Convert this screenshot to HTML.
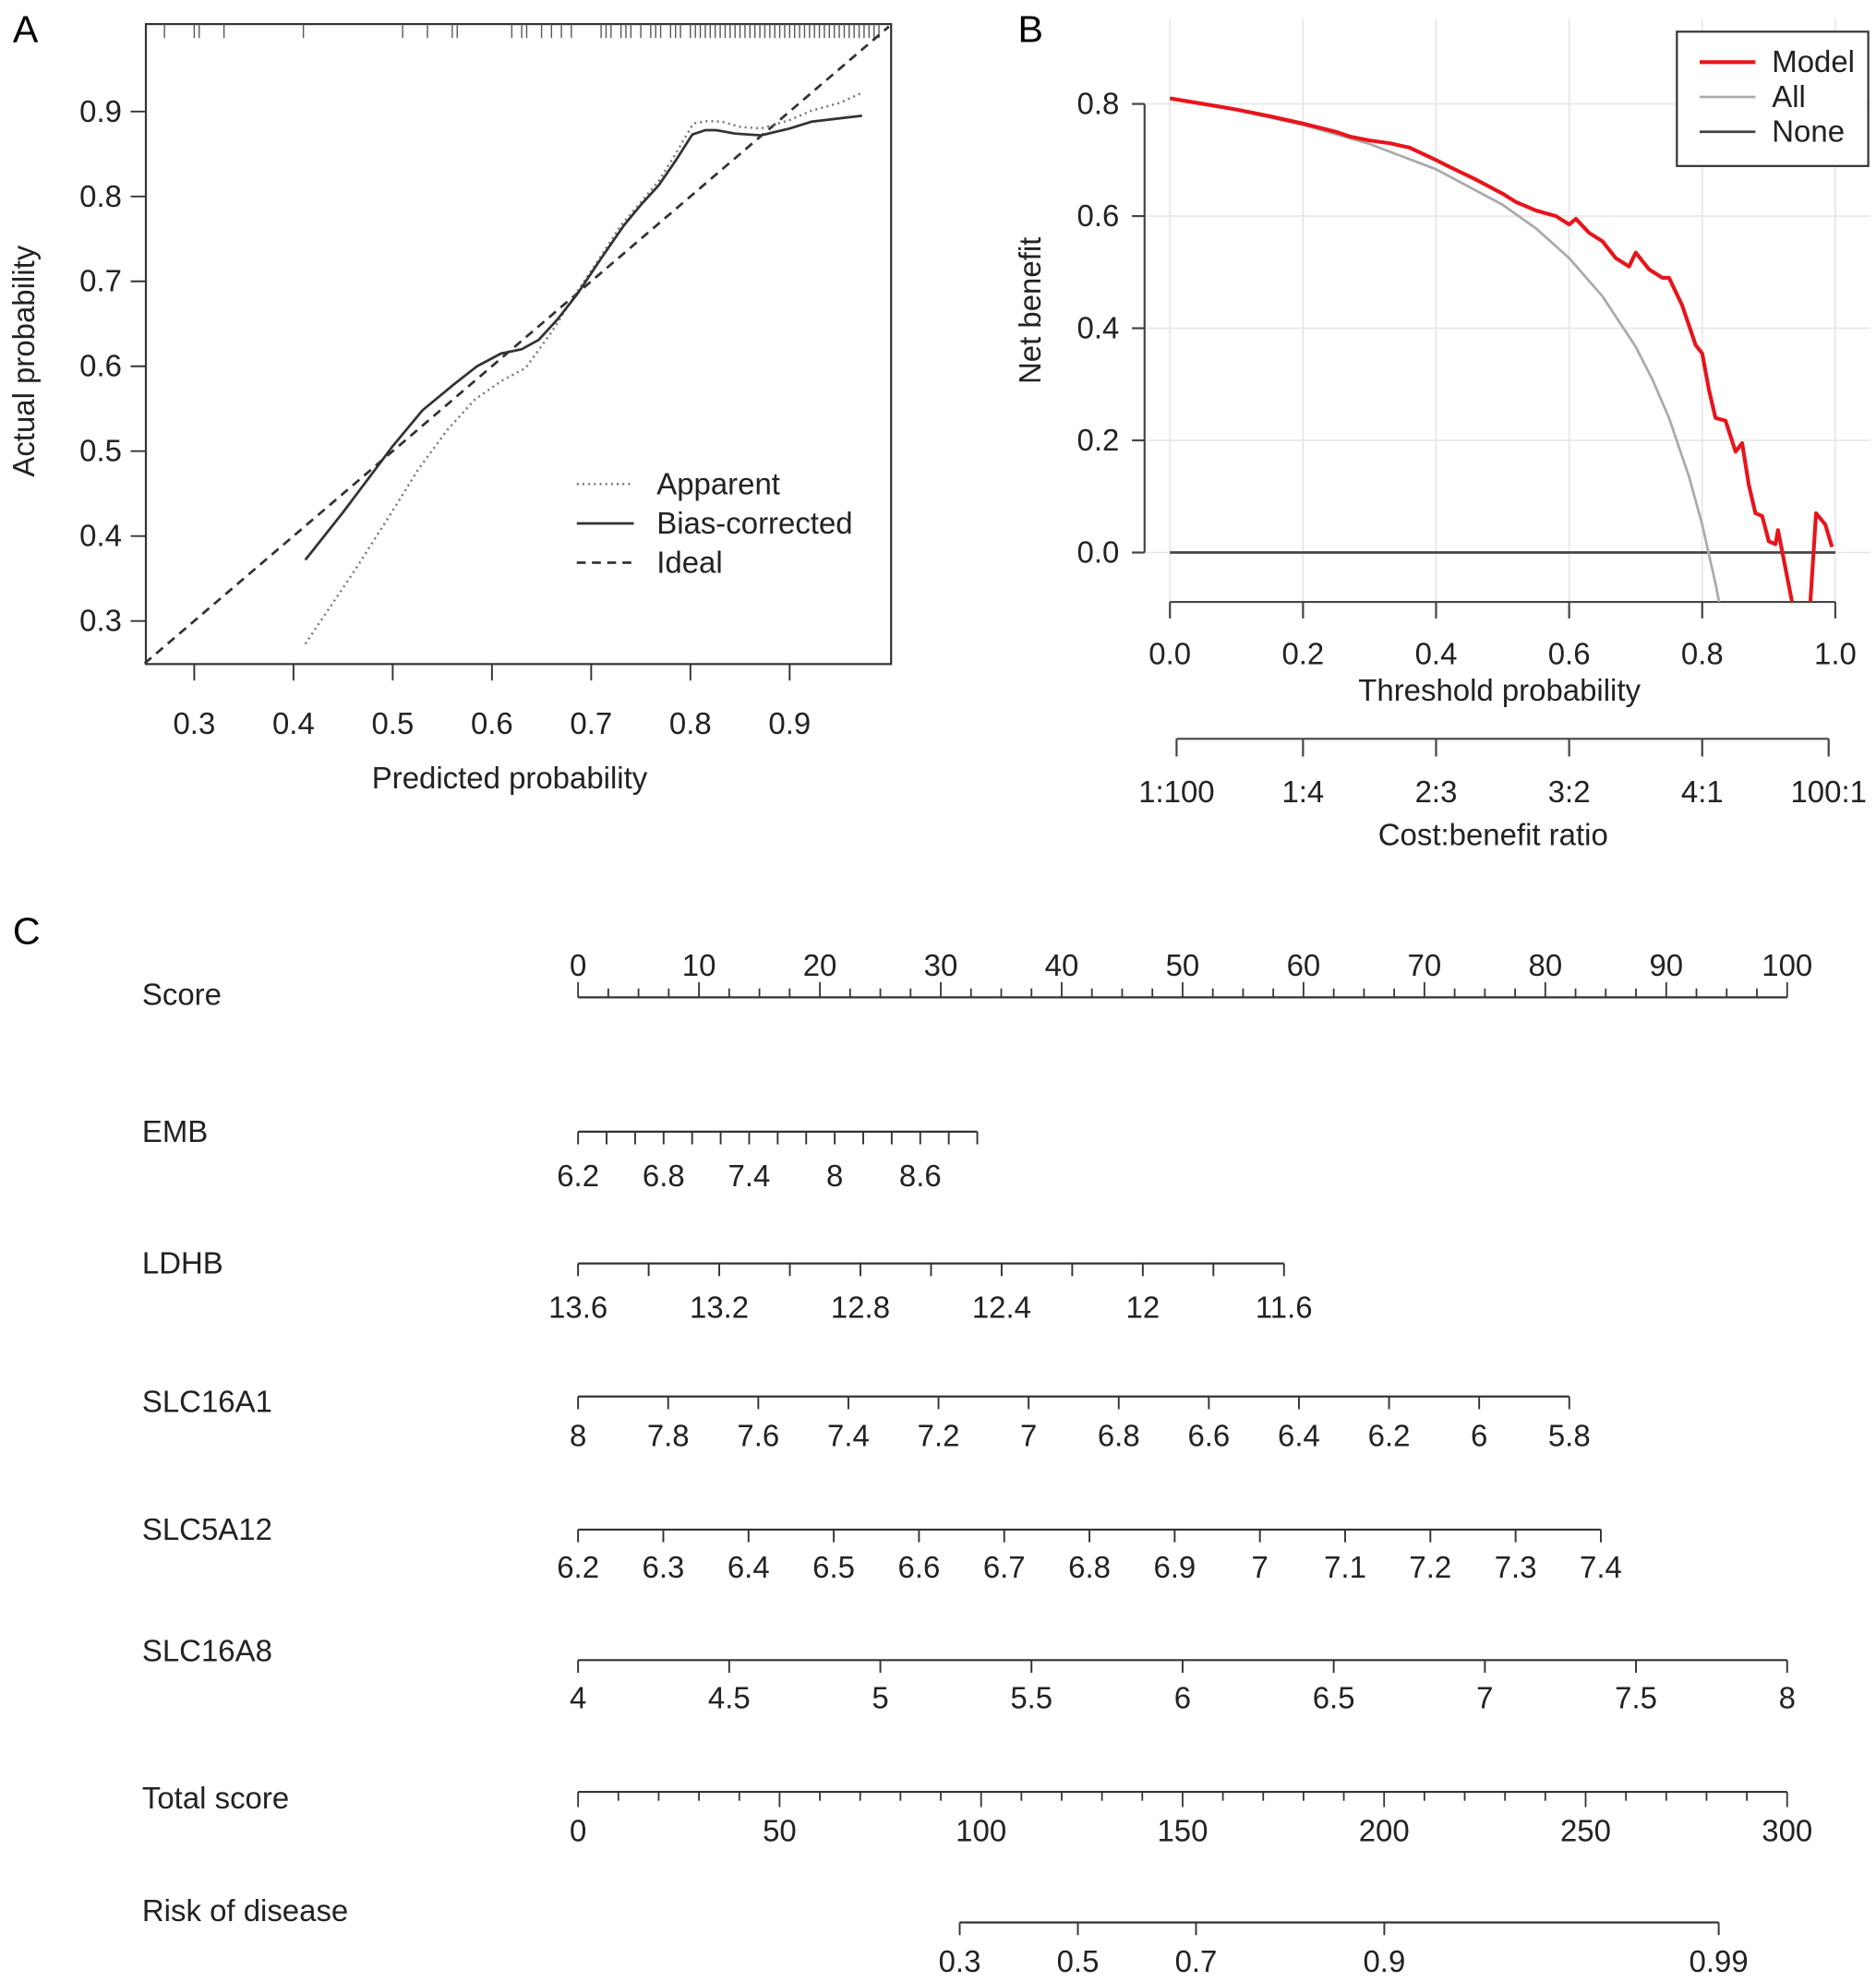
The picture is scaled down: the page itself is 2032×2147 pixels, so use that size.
<!DOCTYPE html>
<html><head><meta charset="utf-8"><style>
html,body{margin:0;padding:0;background:#fff}
svg{display:block;font-family:"Liberation Sans",Arial,sans-serif}
</style></head><body>
<svg id="fig" width="2032" height="2147" viewBox="0 0 1480 1564" xmlns="http://www.w3.org/2000/svg">
<rect width="1480" height="1564" fill="#fff"/>
<text x="10" y="33" font-size="30">A</text>
<text x="803" y="33" font-size="30">B</text>
<text x="10" y="745" font-size="30">C</text>
<g id="pa"></g>
<g id="pb"></g>
<g id="pc"></g>
</svg>
<script>
const FS = 24;
// ---------- Panel A data ----------
const aTicks = [0.3,0.4,0.5,0.6,0.7,0.8,0.9];
const biasX = [0.412,0.45,0.50,0.53,0.562,0.585,0.609,0.630,0.647,0.666,0.686,0.710,0.733,0.750,0.768,0.785,0.802,0.815,0.826,0.845,0.871,0.900,0.922,0.950,0.973];
const biasY = [0.372,0.428,0.506,0.548,0.579,0.600,0.615,0.620,0.631,0.655,0.685,0.727,0.766,0.790,0.813,0.842,0.873,0.878,0.878,0.874,0.872,0.880,0.888,0.892,0.895];
const appX = [0.412,0.462,0.50,0.526,0.555,0.583,0.610,0.634,0.660,0.686,0.710,0.730,0.750,0.768,0.785,0.803,0.818,0.832,0.850,0.871,0.900,0.922,0.950,0.973];
const appY = [0.273,0.360,0.430,0.479,0.525,0.561,0.583,0.598,0.640,0.688,0.730,0.766,0.793,0.818,0.850,0.886,0.889,0.888,0.882,0.880,0.890,0.901,0.910,0.922];
const rug = [0.27,0.30,0.305,0.33,0.41,0.51,0.535,0.56,0.565,0.62,0.63,0.635,0.65,0.66,0.67,0.68,0.71,0.715,0.72,0.73,0.735,0.74,0.75,0.76,0.765,0.77,0.78,0.785,0.79,0.80,0.805,0.81,0.815,0.82,0.825,0.83,0.835,0.84,0.845,0.85,0.855,0.86,0.865,0.87,0.875,0.88,0.885,0.89,0.895,0.90,0.905,0.91,0.915,0.92,0.925,0.93,0.935,0.94,0.945,0.95,0.955,0.96,0.965,0.97,0.975,0.98,0.985,0.99];
// ---------- Panel B data ----------
const bXTicks = [0,0.2,0.4,0.6,0.8,1.0];
const bXLabels = ["0.0","0.2","0.4","0.6","0.8","1.0"];
const bYTicks = [0,0.2,0.4,0.6,0.8];
const bYLabels = ["0.0","0.2","0.4","0.6","0.8"];
const ratioPos = [0.01,0.2,0.4,0.6,0.8,0.99];
const ratioLabels = ["1:100","1:4","2:3","3:2","4:1","100:1"];
const modelT = [0,0.05,0.1,0.15,0.2,0.25,0.27,0.3,0.33,0.36,0.4,0.42,0.46,0.5,0.52,0.55,0.58,0.6,0.61,0.63,0.65,0.67,0.69,0.7,0.72,0.74,0.75,0.77,0.79,0.8,0.81,0.82,0.835,0.85,0.86,0.87,0.88,0.89,0.9,0.91,0.914,0.937,0.962,0.971,0.985,0.995];
const modelNB = [0.81,0.80,0.79,0.778,0.765,0.75,0.742,0.735,0.73,0.722,0.70,0.688,0.665,0.64,0.625,0.61,0.60,0.585,0.595,0.57,0.555,0.525,0.51,0.535,0.505,0.49,0.49,0.44,0.37,0.355,0.29,0.24,0.235,0.18,0.195,0.12,0.07,0.065,0.02,0.015,0.04,-0.1,-0.1,0.07,0.05,0.01];
const allT = [0,0.1,0.2,0.3,0.4,0.5,0.55,0.6,0.65,0.7,0.725,0.75,0.78,0.8,0.82,0.83];
const allNB = [0.81,0.789,0.7625,0.7286,0.6833,0.62,0.578,0.525,0.457,0.367,0.309,0.24,0.1359,0.05,-0.0555,-0.117];
// ---------- Panel C data ----------
const scoreMajor = [0,10,20,30,40,50,60,70,80,90,100];
const embTicks = [6.2,6.4,6.6,6.8,7.0,7.2,7.4,7.6,7.8,8.0,8.2,8.4,8.6,8.8,9.0];
const embLabels = [6.2,6.8,7.4,8,8.6];
const ldhbTicks = [13.6,13.4,13.2,13.0,12.8,12.6,12.4,12.2,12.0,11.8,11.6];
const ldhbLabels = [13.6,13.2,12.8,12.4,12,11.6];
const a1Ticks = [8,7.8,7.6,7.4,7.2,7,6.8,6.6,6.4,6.2,6,5.8];
const a12Ticks = [6.2,6.3,6.4,6.5,6.6,6.7,6.8,6.9,7,7.1,7.2,7.3,7.4];
const a8Ticks = [4,4.5,5,5.5,6,6.5,7,7.5,8];
const totalMajor = [0,50,100,150,200,250,300];
const riskTicks = [0.3,0.5,0.7,0.9,0.99];

const NS="http://www.w3.org/2000/svg";
function el(parent,tag,attrs,text){const e=document.createElementNS(NS,tag);for(const k in attrs)e.setAttribute(k,attrs[k]);if(text!==undefined)e.textContent=text;parent.appendChild(e);return e;}
function fmt(v){return String(v);}

// ===== Panel A =====
(function(){
const g=document.getElementById('pa');
const X=v=>114+(v-0.25)*783, Y=v=>523.5-(v-0.25)*670;
const box=el(g,'rect',{x:115,y:19,width:588,height:505,fill:'none',stroke:'#333','stroke-width':1.6});


aTicks.forEach(v=>{
 const t=el(g,'line',{x1:X(v),x2:X(v),y1:524,y2:537,stroke:'#333','stroke-width':1.4});
 
 const l=el(g,'text',{x:X(v),y:579,'font-size':FS,'text-anchor':'middle',fill:'#222'},v.toFixed(1));
 
 const t2=el(g,'line',{x1:115,x2:103,y1:Y(v),y2:Y(v),stroke:'#333','stroke-width':1.4});
 
 const l2=el(g,'text',{x:96,y:Y(v)+8,'font-size':FS,'text-anchor':'end',fill:'#222'},v.toFixed(1));
 
});
rug.forEach(v=>{const r=el(g,'line',{x1:X(v),x2:X(v),y1:19,y2:30,stroke:'#555','stroke-width':1});
 });
const ideal=el(g,'line',{x1:X(0.25),y1:Y(0.25),x2:X(1),y2:Y(1),stroke:'#333','stroke-width':2,'stroke-dasharray':'7,5'});

const pts=(xs,ys)=>xs.map((x,i)=>X(x).toFixed(1)+','+Y(ys[i]).toFixed(1)).join(' ');
const ap=el(g,'polyline',{points:pts(appX,appY),fill:'none',stroke:'#777','stroke-width':1.8,'stroke-dasharray':'1.5,3'});

const bc=el(g,'polyline',{points:pts(biasX,biasY),fill:'none',stroke:'#333','stroke-width':2,'stroke-linejoin':'round'});

const xt=el(g,'text',{x:402,y:622,'font-size':FS,'text-anchor':'middle',fill:'#222'},'Predicted probability');

const yt=el(g,'text',{x:0,y:0,'font-size':FS,'text-anchor':'middle',fill:'#222',transform:'translate(27,285) rotate(-90)'},'Actual probability');

const leg=[['Apparent','1.5,3','#777',1.8],['Bias-corrected','','#333',2],['Ideal','7,5','#333',2]];
leg.forEach((e,i)=>{const y=382+i*31;
 const gg=el(g,'g',{});
 el(gg,'line',{x1:455,x2:500,y1:y,y2:y,stroke:e[2],'stroke-width':e[3],'stroke-dasharray':e[1]||'none'});
 el(gg,'text',{x:518,y:y+8,'font-size':FS,fill:'#222'},e[0]);});
})();

// ===== Panel B =====
(function(){
const g=document.getElementById('pb');
const X=v=>923+v*525, Y=v=>436-v*442.5;
const cp=el(g,'clipPath',{id:'clipB'});el(cp,'rect',{x:903,y:15,width:575,height:460});
bXTicks.forEach(v=>{const l=el(g,'line',{x1:X(v),x2:X(v),y1:15,y2:475,stroke:'#e6e6e6','stroke-width':1.2});
 });
bYTicks.forEach(v=>{const l=el(g,'line',{x1:903,x2:1476,y1:Y(v),y2:Y(v),stroke:'#e6e6e6','stroke-width':1.2});
 });
const ya=el(g,'line',{x1:903,x2:903,y1:Y(0.8),y2:Y(0),stroke:'#444','stroke-width':1.6});

bYTicks.forEach((v,i)=>{el(g,'line',{x1:893,x2:903,y1:Y(v),y2:Y(v),stroke:'#444','stroke-width':1.6});
 const l=el(g,'text',{x:883,y:Y(v)+8,'font-size':FS,'text-anchor':'end',fill:'#222'},bYLabels[i]);
 });
const xa=el(g,'line',{x1:X(0),x2:X(1),y1:475,y2:475,stroke:'#444','stroke-width':1.6});

bXTicks.forEach((v,i)=>{el(g,'line',{x1:X(v),x2:X(v),y1:475,y2:488,stroke:'#444','stroke-width':1.6});
 const l=el(g,'text',{x:X(v),y:524,'font-size':FS,'text-anchor':'middle',fill:'#222'},bXLabels[i]);
 });
const xt=el(g,'text',{x:1183,y:553,'font-size':FS,'text-anchor':'middle',fill:'#222'},'Threshold probability');

const ra=el(g,'line',{x1:X(ratioPos[0]),x2:X(ratioPos[5]),y1:583,y2:583,stroke:'#444','stroke-width':1.6});

ratioPos.forEach((v,i)=>{el(g,'line',{x1:X(v),x2:X(v),y1:583,y2:597,stroke:'#444','stroke-width':1.6});
 const l=el(g,'text',{x:X(v),y:633,'font-size':FS,'text-anchor':'middle',fill:'#222'},ratioLabels[i]);
 });
const rt=el(g,'text',{x:1178,y:667,'font-size':FS,'text-anchor':'middle',fill:'#222'},'Cost:benefit ratio');

const yt=el(g,'text',{x:0,y:0,'font-size':FS,'text-anchor':'middle',fill:'#222',transform:'translate(821,245) rotate(-90)'},'Net benefit');

const none=el(g,'line',{x1:X(0),x2:X(1),y1:Y(0),y2:Y(0),stroke:'#444','stroke-width':2});

const pts=(xs,ys)=>xs.map((x,i)=>X(x).toFixed(1)+','+Y(ys[i]).toFixed(1)).join(' ');
const all=el(g,'polyline',{points:pts(allT,allNB),fill:'none',stroke:'#aaa','stroke-width':2,'clip-path':'url(#clipB)'});

const m=el(g,'polyline',{points:pts(modelT,modelNB),fill:'none',stroke:'#e8141b','stroke-width':3,'stroke-linejoin':'round','clip-path':'url(#clipB)'});

const lg=el(g,'g',{});
el(lg,'rect',{x:1323,y:25,width:151,height:106,fill:'#fff',stroke:'#333','stroke-width':1.6});
[['Model','#e8141b',3],['All','#aaa',2],['None','#444',2]].forEach((e,i)=>{const y=49+i*27.5;
 const gg=el(lg,'g',{});
 el(gg,'line',{x1:1341,x2:1385,y1:y,y2:y,stroke:e[1],'stroke-width':e[2]});
 el(gg,'text',{x:1398,y:y+8,'font-size':FS,fill:'#222'},e[0]);});
})();

// ===== Panel C =====
(function(){
const g=document.getElementById('pc');
const x0=456, x1=1410;
const P=pts=>x0+pts*(x1-x0)/100;
const lbl=(t,y)=>{const l=el(g,'text',{x:112,y:y,'font-size':FS,fill:'#222'},t);};
function axis(name,ticks,labels,ptsFn,y,dir,lblY){
 const gg=el(g,'g',{});
 const xs=ticks.map(ptsFn);
 el(gg,'line',{x1:Math.min(...xs),x2:Math.max(...xs),y1:y,y2:y,stroke:'#333','stroke-width':1.6});
 ticks.forEach(t=>{const x=ptsFn(t);el(gg,'line',{x1:x,x2:x,y1:y,y2:y+dir*10,stroke:'#333','stroke-width':1.4});});
 labels.forEach(t=>{const x=ptsFn(t);const l=el(gg,'text',{x:x,y:lblY,'font-size':FS,'text-anchor':'middle',fill:'#222'},fmt(t));
  });
}
lbl('Score',793);
{const gg=el(g,'g',{});
 el(gg,'line',{x1:P(0),x2:P(100),y1:787,y2:787,stroke:'#333','stroke-width':1.6});
 for(let i=0;i<=40;i++){const v=i*2.5;const maj=(v%10===0);el(gg,'line',{x1:P(v),x2:P(v),y1:787,y2:maj?775:780,stroke:'#333','stroke-width':1.3});}
 scoreMajor.forEach(v=>{const l=el(gg,'text',{x:P(v),y:770,'font-size':FS,'text-anchor':'middle',fill:'#222'},fmt(v));
  });}
lbl('EMB',901);
axis('emb-axis',embTicks,embLabels,v=>x0+(v-6.2)*112.5,893,1,936);
lbl('LDHB',1005);
axis('ldhb-axis',ldhbTicks,ldhbLabels,v=>x0+(13.6-v)*278.5,997,1,1040);
lbl('SLC16A1',1114);
axis('slc16a1-axis',a1Ticks,a1Ticks,v=>x0+(8-v)*355.5,1102,1,1141);
lbl('SLC5A12',1215);
axis('slc5a12-axis',a12Ticks,a12Ticks,v=>x0+(v-6.2)*672.5,1207,1,1245);
lbl('SLC16A8',1311);
axis('slc16a8-axis',a8Ticks,a8Ticks,v=>x0+(v-4)*238.5,1310,1,1348);
lbl('Total score',1427);
{const T=v=>x0+v*(x1-x0)/300;const gg=el(g,'g',{});
 el(gg,'line',{x1:T(0),x2:T(300),y1:1414,y2:1414,stroke:'#333','stroke-width':1.6});
 for(let v=0;v<=300;v+=10){const maj=(v%50===0);el(gg,'line',{x1:T(v),x2:T(v),y1:1414,y2:maj?1426:1421,stroke:'#333','stroke-width':1.3});}
 totalMajor.forEach(v=>{const l=el(gg,'text',{x:T(v),y:1453,'font-size':FS,'text-anchor':'middle',fill:'#222'},fmt(v));
  });}
lbl('Risk of disease',1516);
{const T=v=>x0+v*(x1-x0)/300;
 const R=p=>T((Math.log(p/(1-p))+3.584)/0.0289);
 axis('risk-axis',riskTicks,riskTicks,R,1517,1,1556);}
})();
</script>
</body></html>
